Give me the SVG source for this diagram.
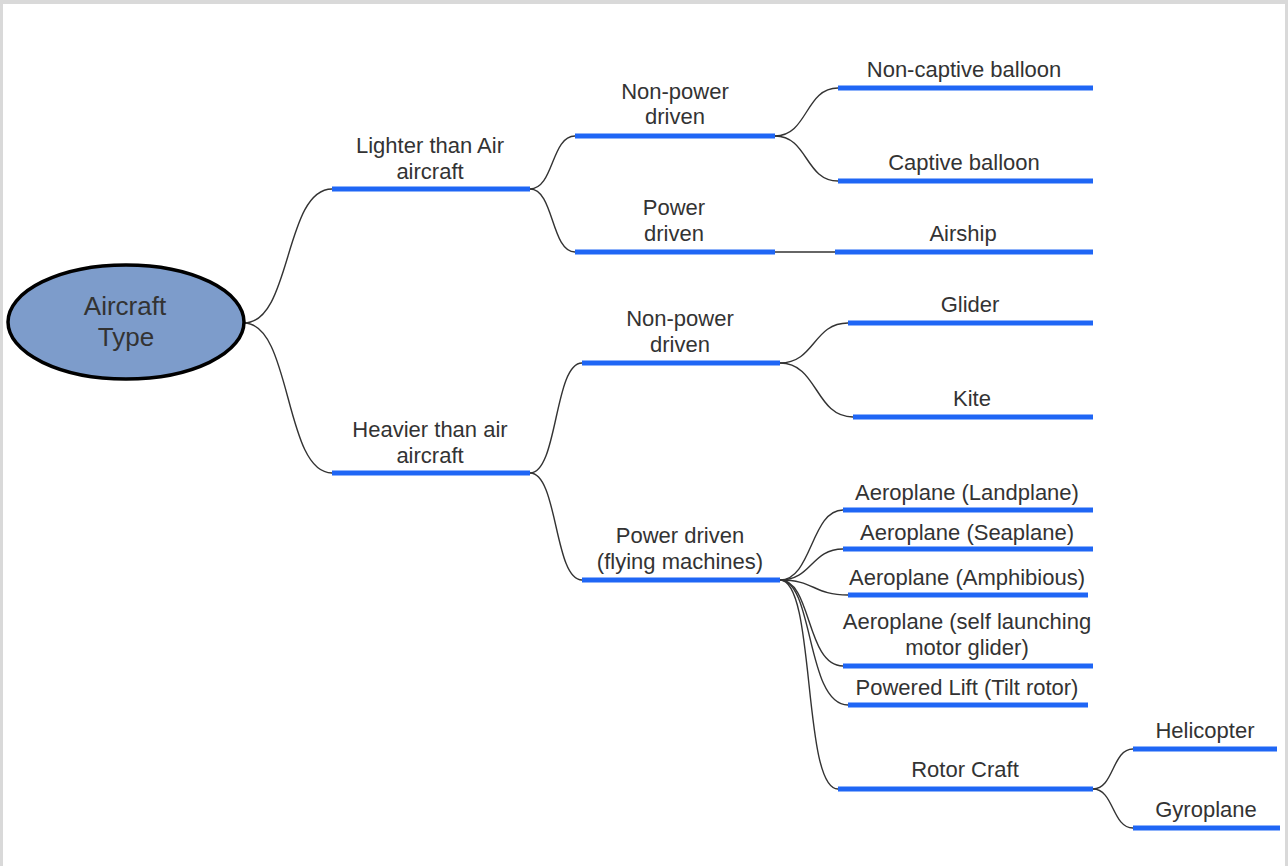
<svg xmlns="http://www.w3.org/2000/svg" width="1288" height="866" viewBox="0 0 1288 866">
  <style>
    .bar { stroke: #1f66f5; stroke-width: 5; fill: none; }
    .link { stroke: #333333; stroke-width: 1.4; fill: none; }
    .lbl { font-family: "Liberation Sans", Arial, sans-serif; font-size: 22px; fill: #333333; text-anchor: middle; }
    .root-lbl { font-family: "Liberation Sans", Arial, sans-serif; font-size: 26px; fill: #333333; text-anchor: middle; }
  </style>

  <!-- page and frame -->
  <rect x="0" y="0" width="1288" height="866" fill="#ffffff"/>
  <rect x="0" y="0" width="1288" height="4" fill="#d9d9d9"/>
  <rect x="0" y="0" width="3" height="866" fill="#d9d9d9"/>
  <rect x="1285" y="0" width="3" height="866" fill="#d9d9d9"/>

  <!-- connectors -->
  <g id="connectors">
    <path class="link" d="M244,323 C292,323 284,189 332,189"/>
    <path class="link" d="M244,323 C292,323 284,473 332,473"/>
    <path class="link" d="M530,189 C554,189 551,136 575,136"/>
    <path class="link" d="M530,189 C554,189 551,252 575,252"/>
    <path class="link" d="M775,136 C808,136 805,88 838,88"/>
    <path class="link" d="M775,136 C808,136 805,181 838,181"/>
    <path class="link" d="M775,252 L835,252"/>
    <path class="link" d="M530,473 C558,473 554,363 582,363"/>
    <path class="link" d="M530,473 C558,473 554,580 582,580"/>
    <path class="link" d="M780,363 C815,363 813,323 848,323"/>
    <path class="link" d="M780,363 C818,363 815,417 853,417"/>
    <path class="link" d="M780,580 C812,580 811,510 843,510"/>
    <path class="link" d="M780,580 C812,580 811,549 843,549"/>
    <path class="link" d="M780,580 C815,580 813,595 848,595"/>
    <path class="link" d="M780,580 C812,580 806,666 843,666"/>
    <path class="link" d="M780,580 C814,580 806,705 848,705"/>
    <path class="link" d="M780,580 C816,580 802,789 838,789"/>
    <path class="link" d="M1093,789 C1114,789 1112,749 1133,749"/>
    <path class="link" d="M1093,789 C1114,789 1112,828 1133,828"/>
  </g>

  <!-- root -->
  <g id="aircraft-type">
    <ellipse cx="126" cy="322" rx="118" ry="57" fill="#7d9ccb" stroke="#000000" stroke-width="3.5"/>
    <text class="root-lbl" x="125" y="315">Aircraft</text>
    <text class="root-lbl" x="126" y="346">Type</text>
  </g>

  <!-- level 1 -->
  <g id="lighter-than-air">
    <line class="bar" x1="332" y1="189" x2="530" y2="189"/>
    <text class="lbl" x="430" y="153">Lighter than Air</text>
    <text class="lbl" x="430" y="179">aircraft</text>
  </g>
  <g id="heavier-than-air">
    <line class="bar" x1="332" y1="473" x2="530" y2="473"/>
    <text class="lbl" x="430" y="437">Heavier than air</text>
    <text class="lbl" x="430" y="463">aircraft</text>
  </g>

  <!-- level 2 -->
  <g id="lta-non-power">
    <line class="bar" x1="575" y1="136" x2="775" y2="136"/>
    <text class="lbl" x="675" y="99">Non-power</text>
    <text class="lbl" x="675" y="124">driven</text>
  </g>
  <g id="lta-power">
    <line class="bar" x1="575" y1="252" x2="775" y2="252"/>
    <text class="lbl" x="674" y="215">Power</text>
    <text class="lbl" x="674" y="241">driven</text>
  </g>
  <g id="hta-non-power">
    <line class="bar" x1="582" y1="363" x2="780" y2="363"/>
    <text class="lbl" x="680" y="326">Non-power</text>
    <text class="lbl" x="680" y="352">driven</text>
  </g>
  <g id="hta-power">
    <line class="bar" x1="582" y1="580" x2="780" y2="580"/>
    <text class="lbl" x="680" y="543">Power driven</text>
    <text class="lbl" x="680" y="569">(flying machines)</text>
  </g>

  <!-- level 3 -->
  <g id="non-captive-balloon">
    <line class="bar" x1="838" y1="88" x2="1093" y2="88"/>
    <text class="lbl" x="964" y="77">Non-captive balloon</text>
  </g>
  <g id="captive-balloon">
    <line class="bar" x1="838" y1="181" x2="1093" y2="181"/>
    <text class="lbl" x="964" y="170">Captive balloon</text>
  </g>
  <g id="airship">
    <line class="bar" x1="835" y1="252" x2="1093" y2="252"/>
    <text class="lbl" x="963" y="241">Airship</text>
  </g>
  <g id="glider">
    <line class="bar" x1="848" y1="323" x2="1093" y2="323"/>
    <text class="lbl" x="970" y="312">Glider</text>
  </g>
  <g id="kite">
    <line class="bar" x1="853" y1="417" x2="1093" y2="417"/>
    <text class="lbl" x="972" y="406">Kite</text>
  </g>
  <g id="landplane">
    <line class="bar" x1="843" y1="510" x2="1093" y2="510"/>
    <text class="lbl" x="967" y="500">Aeroplane (Landplane)</text>
  </g>
  <g id="seaplane">
    <line class="bar" x1="843" y1="549" x2="1093" y2="549"/>
    <text class="lbl" x="967" y="540">Aeroplane (Seaplane)</text>
  </g>
  <g id="amphibious">
    <line class="bar" x1="848" y1="595" x2="1088" y2="595"/>
    <text class="lbl" x="967" y="585">Aeroplane (Amphibious)</text>
  </g>
  <g id="motor-glider">
    <line class="bar" x1="843" y1="666" x2="1093" y2="666"/>
    <text class="lbl" x="967" y="629">Aeroplane (self launching</text>
    <text class="lbl" x="967" y="655">motor glider)</text>
  </g>
  <g id="powered-lift">
    <line class="bar" x1="848" y1="705" x2="1088" y2="705"/>
    <text class="lbl" x="967" y="695">Powered Lift (Tilt rotor)</text>
  </g>
  <g id="rotor-craft">
    <line class="bar" x1="838" y1="789" x2="1093" y2="789"/>
    <text class="lbl" x="965" y="777">Rotor Craft</text>
  </g>

  <!-- level 4 -->
  <g id="helicopter">
    <line class="bar" x1="1133" y1="749" x2="1277" y2="749"/>
    <text class="lbl" x="1205" y="738">Helicopter</text>
  </g>
  <g id="gyroplane">
    <line class="bar" x1="1133" y1="828" x2="1280" y2="828"/>
    <text class="lbl" x="1206" y="817">Gyroplane</text>
  </g>
</svg>
